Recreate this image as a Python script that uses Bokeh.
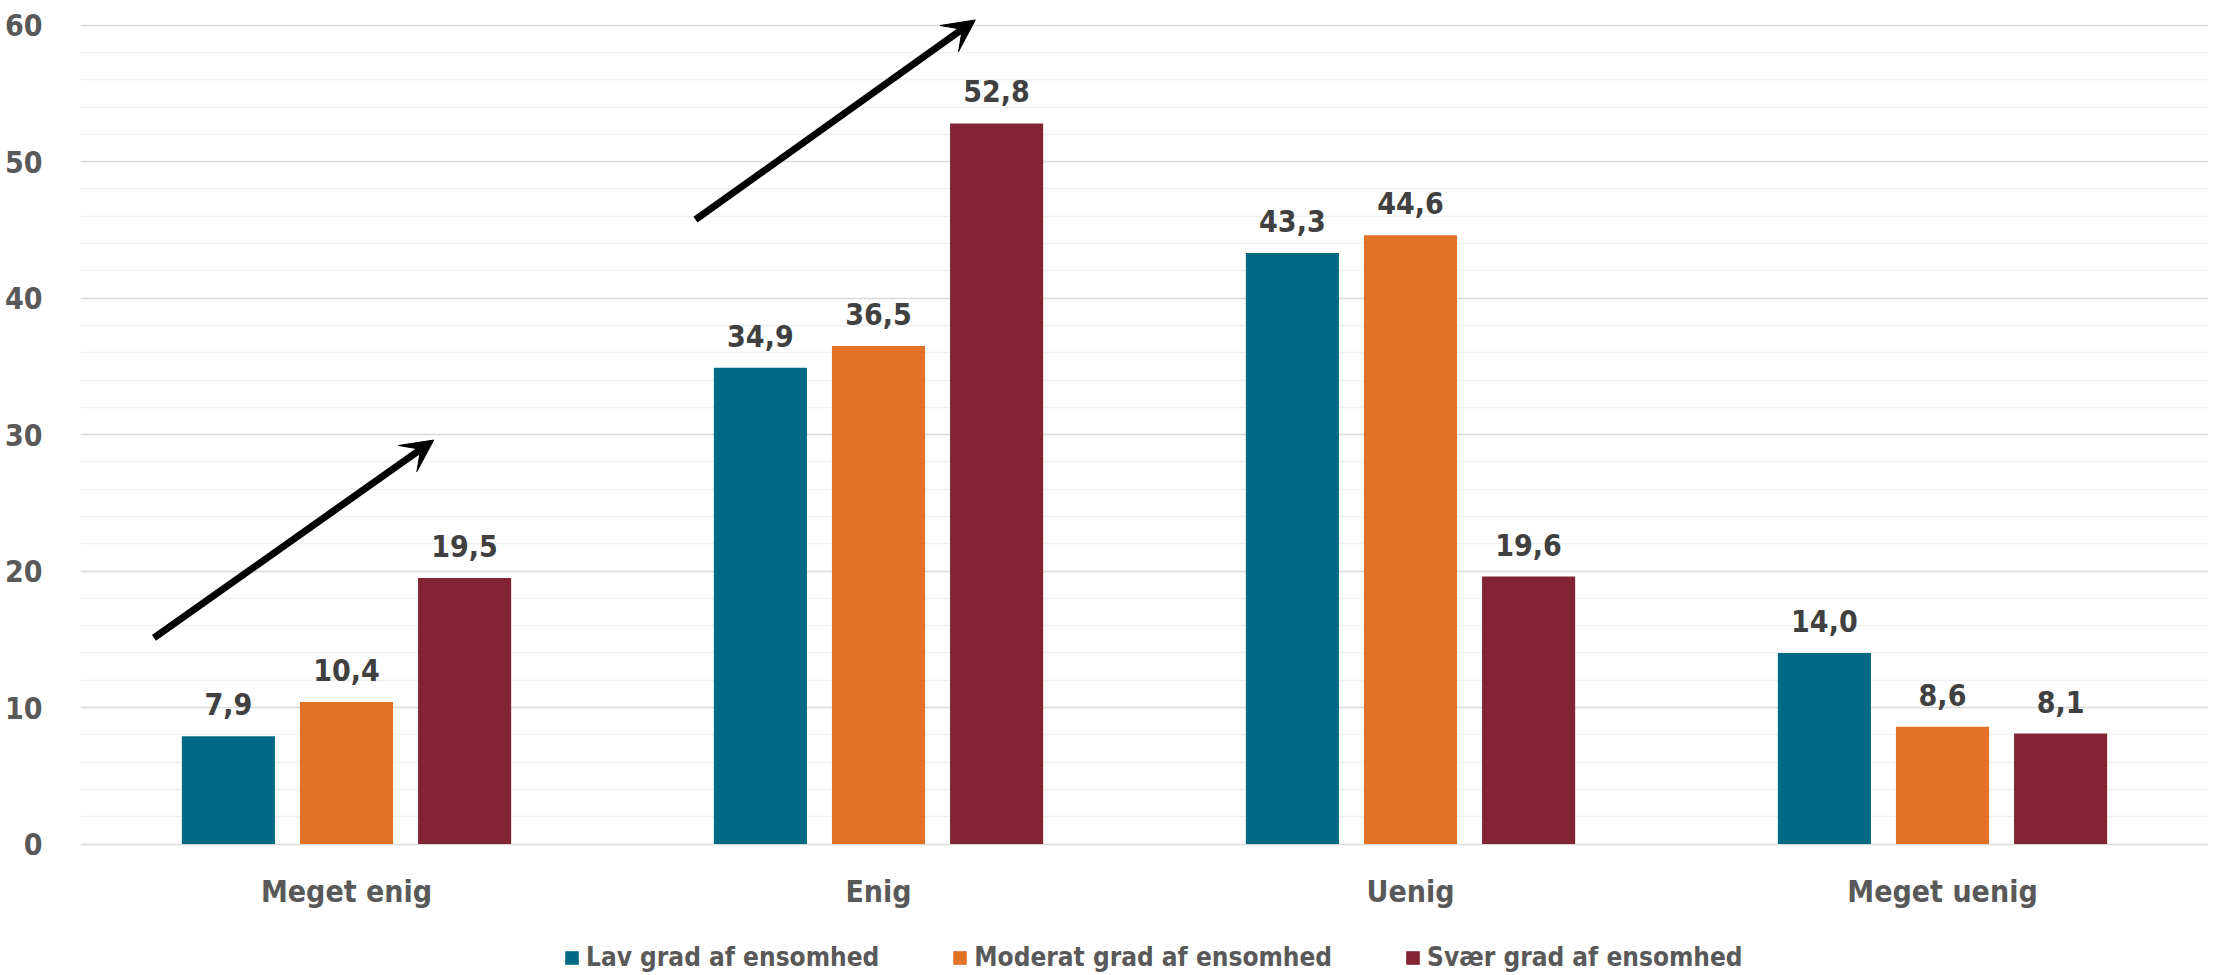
from bokeh.plotting import figure
from bokeh.models import (ColumnDataSource, Range1d, FixedTicker,
                          Legend, LegendItem, Arrow, VeeHead, LabelSet)
from bokeh.core.properties import value
from bokeh.embed import file_html
from bokeh.resources import INLINE

categories = ["Meget enig", "Enig", "Uenig", "Meget uenig"]
series = ["Lav grad af ensomhed", "Moderat grad af ensomhed", "Svær grad af ensomhed"]
lav = [7.9, 34.9, 43.3, 14.0]
moderat = [10.4, 36.5, 44.6, 8.6]
svaer = [19.5, 52.8, 19.6, 8.1]
colors = ["#006A85", "#E27326", "#822434"]
y_ticks = [0, 10, 20, 30, 40, 50, 60]
y_minor_ticks = [v for v in range(0, 61, 2) if v % 10]

# arrow annotations (data coordinates: category index space, percent)
arrow_x_start = [0.138, 1.156]
arrow_y_start = [15.1, 45.75]
arrow_x_end = [0.664, 1.682]
arrow_y_end = [29.6, 60.38]

FONT = "DejaVu Sans Condensed"
centers = [i + 0.5 for i in range(len(categories))]
offsets = [-0.222, 0.0, 0.222]
bar_w = 0.175

p = figure(width=2211, height=972, output_backend="svg", toolbar_location=None,
           x_range=Range1d(0, 4), y_range=Range1d(-9.41, 61), x_axis_location=None,
           min_border_left=80, min_border_right=3, min_border_top=11, min_border_bottom=0)
p.outline_line_color = None
p.background_fill_color = "white"

items = []
for vals, name, col, off in zip([lav, moderat, svaer], series, colors, offsets):
    src = ColumnDataSource(dict(
        x=[c + off for c in centers],
        top=vals,
        lbl=[f"{v:.1f}".replace(".", ",") for v in vals],
    ))
    r = p.vbar(x="x", top="top", bottom=0, width=bar_w, source=src,
               fill_color=col, line_color=None)
    items.append(LegendItem(label=name, renderers=[r]))
    p.add_layout(LabelSet(x="x", y="top", text="lbl", source=src, text_align="center",
                          text_baseline="alphabetic", y_offset=21,
                          text_font=value(FONT), text_font_style="bold",
                          text_font_size="30px", text_color="#404040"))

# category labels under the bars
cat_src = ColumnDataSource(dict(x=centers, y=[0] * len(centers), t=categories))
p.add_layout(LabelSet(x="x", y="y", text="t", source=cat_src, text_align="center",
                      text_baseline="alphabetic", y_offset=-58,
                      text_font=value(FONT), text_font_style="bold",
                      text_font_size="30px", text_color="#595959"))

for xs, ys, xe, ye in zip(arrow_x_start, arrow_y_start, arrow_x_end, arrow_y_end):
    p.add_layout(Arrow(x_start=xs, y_start=ys, x_end=xe, y_end=ye,
                       line_color="black", line_width=7,
                       end=VeeHead(size=32, fill_color="black", line_color="black", line_width=1)))

p.yaxis.ticker = FixedTicker(ticks=y_ticks, minor_ticks=y_minor_ticks)
p.yaxis.axis_line_color = None
p.yaxis.major_tick_line_color = None
p.yaxis.minor_tick_line_color = None
p.yaxis.major_tick_out = 0
p.yaxis.major_label_standoff = 34
p.yaxis.major_label_text_align = "right"
p.yaxis.major_label_text_font = FONT
p.yaxis.major_label_text_font_style = "bold"
p.yaxis.major_label_text_font_size = "30px"
p.yaxis.major_label_text_color = "#595959"

p.xgrid.grid_line_color = None
p.ygrid.grid_line_color = "#D9D9D9"
p.ygrid.grid_line_width = 1.5
p.ygrid.minor_grid_line_color = "#F0F0F0"
p.ygrid.minor_grid_line_width = 1.5

legend = Legend(items=items, orientation="horizontal", location=(483, 0),
                label_text_font=FONT, label_text_font_style="bold",
                label_text_font_size="26px", label_text_color="#595959",
                glyph_width=17, glyph_height=17, label_standoff=6, spacing=72,
                padding=0, margin=0, border_line_color=None, background_fill_alpha=0)
p.add_layout(legend, "center")

open("out.html", "w").write(file_html(p, INLINE))
